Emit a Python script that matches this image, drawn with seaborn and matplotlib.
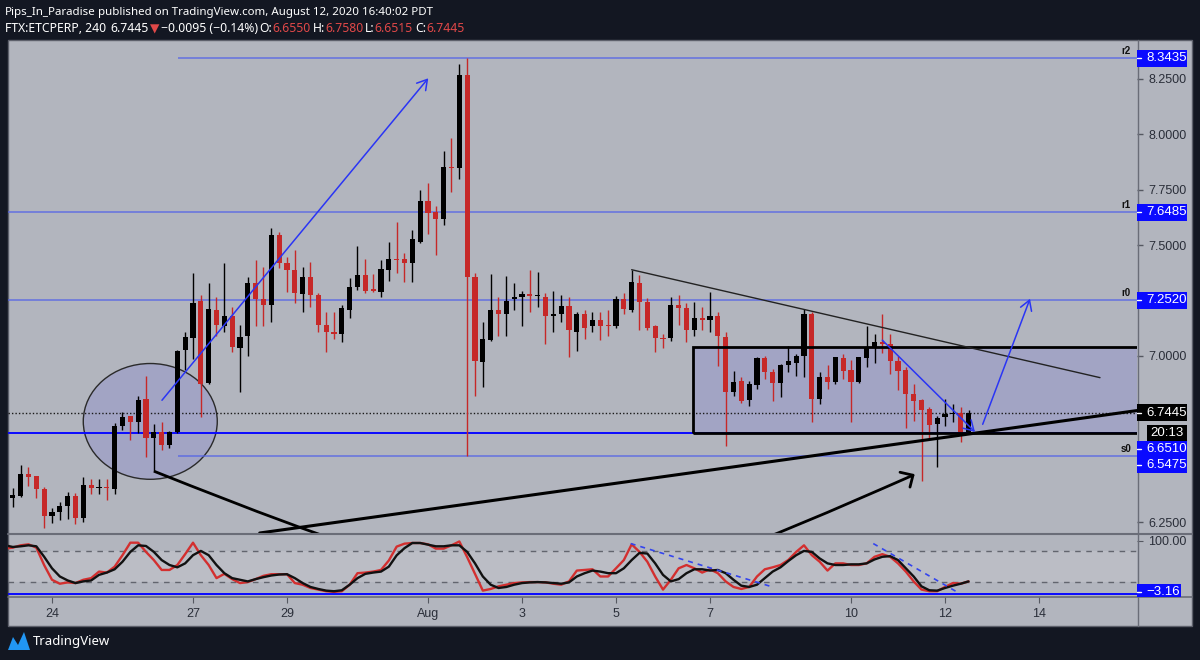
import numpy as np
import pandas as pd
import matplotlib
matplotlib.use("Agg")
import matplotlib.pyplot as plt
import seaborn as sns
from matplotlib.patches import Rectangle, Ellipse, PathPatch, Polygon
from matplotlib.path import Path
from matplotlib.lines import Line2D

# ---------------- data (FTX:ETCPERP, 4h candles) ----------------
opens = [
    6.340, 6.361, 6.367, 6.466, 6.457, 6.399, 6.277, 6.295, 6.322, 6.367,
    6.268, 6.417, 6.403, 6.408, 6.399, 6.683, 6.727, 6.700, 6.804, 6.628,
    6.655, 6.597, 6.655, 7.025, 7.079, 7.250, 6.876, 7.209, 7.133, 7.182,
    7.038, 7.088, 7.331, 7.255, 7.232, 7.547, 7.421, 7.389, 7.281, 7.358,
    7.277, 7.141, 7.106, 7.101, 7.205, 7.313, 7.367, 7.299, 7.290, 7.389,
    7.439, 7.439, 7.421, 7.515, 7.700, 7.650, 7.619, 7.854, 7.849, 8.268,
    7.358, 6.971, 7.070, 7.205, 7.191, 7.259, 7.268, 7.281, 7.272, 7.268,
    7.178, 7.187, 7.227, 7.110, 7.187, 7.137, 7.160, 7.137, 7.133, 7.259,
    7.209, 7.331, 7.245, 7.133, 7.079, 7.079, 7.232, 7.218, 7.115, 7.169,
    7.160, 7.182, 7.084, 6.836, 6.885, 6.800, 6.867, 6.989, 6.926, 6.876,
    6.957, 6.966, 6.998, 7.191, 6.804, 6.903, 6.881, 6.989, 6.935, 6.881,
    6.989, 7.034, 7.065, 7.052, 6.975, 6.935, 6.827, 6.800, 6.759, 6.692,
    6.723, 6.736, 6.741, 6.655]
highs = [
    6.385, 6.403, 6.507, 6.498, 6.459, 6.408, 6.313, 6.340, 6.385, 6.381,
    6.453, 6.444, 6.444, 6.444, 6.696, 6.745, 6.730, 6.818, 6.908, 6.692,
    6.700, 6.660, 7.025, 7.106, 7.376, 7.277, 7.331, 7.268, 7.421, 7.223,
    7.141, 7.358, 7.434, 7.403, 7.579, 7.561, 7.448, 7.479, 7.403, 7.425,
    7.286, 7.200, 7.196, 7.232, 7.353, 7.497, 7.439, 7.371, 7.434, 7.515,
    7.606, 7.466, 7.570, 7.750, 7.782, 7.677, 7.926, 7.984, 8.318, 8.3435,
    7.376, 7.155, 7.371, 7.268, 7.362, 7.327, 7.295, 7.389, 7.380, 7.286,
    7.295, 7.277, 7.268, 7.196, 7.209, 7.200, 7.196, 7.205, 7.272, 7.286,
    7.389, 7.367, 7.263, 7.141, 7.097, 7.268, 7.277, 7.241, 7.245, 7.223,
    7.290, 7.200, 7.106, 6.930, 6.903, 6.885, 6.993, 6.998, 6.939, 6.962,
    7.047, 7.007, 7.214, 7.196, 6.926, 6.957, 6.995, 7.007, 6.980, 6.995,
    7.137, 7.097, 7.187, 7.097, 6.998, 6.948, 6.872, 6.804, 6.768, 6.727,
    6.804, 6.781, 6.768, 6.758]
lows = [
    6.318, 6.318, 6.363, 6.412, 6.358, 6.223, 6.246, 6.259, 6.264, 6.241,
    6.250, 6.376, 6.376, 6.349, 6.376, 6.665, 6.619, 6.651, 6.543, 6.480,
    6.574, 6.583, 6.650, 6.938, 6.984, 6.723, 6.874, 7.088, 7.110, 7.016,
    6.836, 6.998, 7.133, 7.133, 7.155, 7.398, 7.290, 7.241, 7.196, 7.223,
    7.110, 7.016, 7.075, 7.061, 7.169, 7.299, 7.286, 7.290, 7.268, 7.340,
    7.376, 7.335, 7.335, 7.511, 7.552, 7.457, 7.592, 7.741, 7.800, 6.5475,
    6.818, 6.858, 7.066, 7.088, 7.092, 7.205, 7.133, 7.196, 7.223, 7.052,
    7.110, 7.151, 6.993, 7.020, 7.075, 7.110, 7.070, 7.088, 7.128, 7.187,
    7.196, 7.115, 7.119, 7.016, 7.038, 7.066, 7.141, 7.061, 7.088, 7.115,
    7.110, 6.953, 6.592, 6.818, 6.786, 6.773, 6.849, 6.894, 6.795, 6.813,
    6.926, 6.908, 6.903, 6.700, 6.782, 6.849, 6.872, 6.894, 6.700, 6.878,
    6.948, 6.966, 7.011, 6.917, 6.845, 6.673, 6.705, 6.435, 6.624, 6.498,
    6.683, 6.700, 6.610, 6.6515]
closes = [
    6.363, 6.373, 6.466, 6.453, 6.399, 6.277, 6.295, 6.322, 6.367, 6.268,
    6.417, 6.403, 6.408, 6.403, 6.683, 6.723, 6.700, 6.800, 6.628, 6.655,
    6.597, 6.655, 7.020, 7.084, 7.241, 6.872, 7.214, 7.141, 7.182, 7.042,
    7.084, 7.331, 7.255, 7.232, 7.547, 7.421, 7.389, 7.286, 7.358, 7.277,
    7.141, 7.110, 7.101, 7.218, 7.313, 7.367, 7.295, 7.295, 7.394, 7.439,
    7.434, 7.421, 7.529, 7.700, 7.646, 7.619, 7.854, 7.849, 8.268, 7.358,
    6.975, 7.075, 7.205, 7.191, 7.250, 7.268, 7.281, 7.272, 7.277, 7.178,
    7.191, 7.227, 7.119, 7.187, 7.128, 7.160, 7.133, 7.133, 7.259, 7.214,
    7.335, 7.245, 7.128, 7.079, 7.075, 7.232, 7.218, 7.115, 7.169, 7.160,
    7.178, 7.088, 6.836, 6.881, 6.795, 6.872, 6.989, 6.926, 6.876, 6.957,
    6.975, 6.998, 7.191, 6.804, 6.903, 6.881, 6.993, 6.930, 6.881, 6.993,
    7.038, 7.065, 7.052, 6.975, 6.930, 6.827, 6.795, 6.755, 6.687, 6.719,
    6.736, 6.741, 6.655, 6.7445]
stoch_k = [
    85, 87, 91.5, 93.4, 87, 53, 24.5, 16.8, 19.4, 18.1,
    24.5, 27.7, 40.4, 38.5, 50, 72.3, 96.6, 96.6, 78.7, 62.8,
    43.6, 43.6, 53.2, 74.3, 96.6, 72.3, 53.2, 27.7, 36, 25.8,
    18.1, 20, 25.8, 32.2, 35.3, 35.3, 35.3, 18.1, 14.9, 8.5,
    5.4, 2.2, 0.9, 2.2, 14.9, 37.3, 38.5, 40.4, 43.6, 62,
    89, 94.7, 96, 96, 93.4, 85.1, 85.1, 91.5, 99, 68.5,
    36, 3.4, 6.6, 11.7, 14.9, 18.1, 19.4, 20, 20, 19.4,
    16.8, 14.9, 21.3, 42.4, 43.6, 44.9, 30.9, 30.9, 46.8, 62.8,
    93.4, 78.7, 59.6, 30.9, 5.4, 24.5, 46.8, 53.2, 46.8, 38.5,
    44.9, 37.3, 21.3, 10.5, 6.6, 10.5, 30.9, 44.9, 48.7, 53.2,
    63, 78.7, 91.5, 72.3, 59.6, 42.4, 56.4, 56.4, 53.2, 53.2,
    56.4, 69.2, 74.3, 69.2, 56.4, 40.4, 21.3, 5.4, 2.2, 2.2,
    10.5, 18.1, 16.8, 21.3]
stoch_d = [
    91.5, 88.3, 89.6, 91.5, 89.6, 69.2, 46.8, 30.9, 23.2, 18.1,
    21.3, 23.2, 34, 38.5, 44.9, 59.6, 78.7, 91.5, 90.2, 78.7,
    62.8, 53.2, 48.7, 56.4, 72.3, 80.6, 72.3, 53.2, 37.3, 27.7,
    24.5, 21.3, 25.8, 29.6, 32.8, 34.7, 35.3, 27.7, 18.1, 10.5,
    6.6, 3.4, 2.2, 4.1, 14.9, 27.7, 36, 38.5, 40.4, 50,
    72, 86, 96, 96, 92.8, 89.6, 89.6, 91.5, 91.5, 78.7,
    56.4, 30.9, 14.9, 8.5, 10.5, 14.9, 18.1, 19.4, 20, 19.4,
    18.1, 16.8, 19.4, 30.9, 37.3, 42.4, 40.4, 37.3, 37.3, 46.8,
    62.8, 76.8, 75.5, 56.4, 34, 21.3, 25.8, 37.3, 44.9, 44.9,
    42.4, 43.6, 37.3, 24.5, 13, 10.5, 14.9, 27.7, 40.4, 48.7,
    61, 72.3, 80.6, 78.7, 66, 56.4, 53.2, 53.2, 54.5, 54.5,
    56.4, 64, 69.2, 70.4, 62.8, 46.8, 30.9, 11.7, 4.1, 3.4,
    8.5, 13, 16.8, 21.3]

first_candle = "2020-07-23 00:00"
origin = pd.Timestamp("2020-07-24")
price_ticks = [8.25, 8.0, 7.75, 7.5, 7.0, 6.25]
date_ticks = ["2020-07-24", "2020-07-27", "2020-07-29", "2020-08-01", "2020-08-03",
              "2020-08-05", "2020-08-07", "2020-08-10", "2020-08-12", "2020-08-14"]
date_tick_labels = ["24", "27", "29", "Aug", "3", "5", "7", "10", "12", "14"]

# horizontal levels (price, tag, start day)
level_prices = [8.3435, 7.6485, 7.2520, 6.5475]
level_tags = ["r2", "r1", "r0", "s0"]
level_start = [2.68, -2.0, -2.0, 2.68]
support_price = 6.6510
last_price = 6.7445

# drawings (day offset from Jul 24, price)
big_arrow = [(2.34, 6.80), (8.006, 8.253)]
down_arrow = [(17.667, 7.071), (19.638, 6.657)]
up_arrow = [(19.802, 6.6915), (20.809, 7.258)]
desc_trend = [(12.333, 7.389), (22.298, 6.902)]
asc_trend = [(17.191, 6.579), (22.511, 6.7365)]
curve_pts = [(2.167, 6.480), (10.66, 5.7636), (11.298, 5.8086), (18.319, 6.4617)]
curve_head = [(18.043, 6.475), (18.255, 6.408)]
ellipse_c, ellipse_w, ellipse_h = (2.091, 6.7045), 2.851, 0.5225
box_x0, box_lo, box_hi = 13.645, 6.651, 7.0388
stoch_dash1 = [(12.313, 94.9), (15.313, 11.0)]
stoch_dash2 = [(17.474, 94.9), (19.283, -0.7)]
stoch_hline = -3.16

# ---------------- style ----------------
sns.set_style("white")
plt.rcParams["font.family"] = ["Liberation Sans", "DejaVu Sans"]
W, H = 1200, 660
BG = "#b2b5be"
DARK = "#131722"
RED = "#c62828"
BLUE = "#0a0aff"
LVL = "#5565e6"
TXT = "#2a2e39"
FS = 8.5

def fx(px): return px / W
def fy(py): return 1 - py / H

fig = plt.figure(figsize=(W / 100, H / 100), dpi=100)
fig.patch.set_facecolor(DARK)
fig.add_artist(Rectangle((fx(8), fy(626)), (1192 - 8) / W, (626 - 40) / H, transform=fig.transFigure,
                         facecolor=BG, edgecolor="#5d606b", lw=1, zorder=-10))

ax = fig.add_axes([fx(8), fy(533), (1137 - 8) / W, (533 - 40) / H])
ax2 = fig.add_axes([fx(8), fy(597), (1137 - 8) / W, (597 - 534) / H])
for a in (ax, ax2):
    a.set_facecolor("none")
    for s in a.spines.values():
        s.set_visible(False)

times = pd.date_range(first_candle, periods=len(opens), freq="4h")
x = ((times - origin) / pd.Timedelta(days=1)).to_numpy()
o, h, l, c = map(np.asarray, (opens, highs, lows, closes))
XL = (-0.936, 23.085)
ax.set_xlim(*XL)
ax.set_ylim(6.2009, 8.4257)
ax2.set_xlim(*XL)
ax2.set_ylim(-9, 113.5)

# levels
for p, s0 in zip(level_prices, level_start):
    ax.hlines(p, s0, 40, color=LVL, lw=1.1, alpha=0.85, zorder=2)
ax.axhline(support_price, color=BLUE, lw=1.4, zorder=2)
ax.axhline(last_price, color="#1a1a1a", lw=1, ls=(0, (1, 1.5)), zorder=2)

# box and ellipse
fillc = (0.37, 0.37, 0.88, 0.19)
ax.add_patch(Rectangle((box_x0, box_lo), 30, box_hi - box_lo, facecolor=fillc, edgecolor="none", zorder=1))
ax.add_patch(Ellipse(ellipse_c, ellipse_w, ellipse_h, facecolor=fillc, edgecolor="#2a2a2a", lw=1, zorder=1))

# candles
cols = np.where(c >= o, "#000000", RED)
ax.vlines(x, l, h, colors=cols, lw=1, zorder=3)
ax.bar(x, np.maximum(np.abs(c - o), 0.005), bottom=np.minimum(o, c), width=0.11,
       color=cols, linewidth=0, zorder=4)

# box edges over candles
ax.add_patch(Rectangle((box_x0, box_lo), 30, box_hi - box_lo, facecolor="none", edgecolor="black", lw=2, zorder=6))

# trend lines
ax.plot(*zip(*desc_trend), color="#222222", lw=1, zorder=6)
ax.axline(asc_trend[0], asc_trend[1], color="black", lw=2.2, zorder=6)
ax.add_patch(PathPatch(Path(curve_pts, [Path.MOVETO, Path.CURVE4, Path.CURVE4, Path.CURVE4]),
                       facecolor="none", edgecolor="black", lw=2, zorder=6))
for hp in curve_head:
    ax.plot([curve_pts[-1][0], hp[0]], [curve_pts[-1][1], hp[1]], color="black", lw=2, zorder=6,
            solid_capstyle="round")

for (p0, p1) in (big_arrow, down_arrow, up_arrow):
    ax.annotate("", xy=p1, xytext=p0,
                arrowprops=dict(arrowstyle="->,head_length=0.5,head_width=0.3", color="#2a35f5", lw=1.1,
                                shrinkA=0, shrinkB=0, mutation_scale=14), zorder=7)

# axes ticks
ax.yaxis.tick_right()
ax.set_yticks(price_ticks)
ax.set_yticklabels([f"{v:.4f}" for v in price_ticks])
ax.tick_params(axis="y", right=True, left=False, length=4, width=1, color="#555861",
               labelsize=FS + 0.5, labelcolor=TXT, pad=4)
ax.set_xticks([])

# stochastic
ax2.axhspan(20, 80, color="white", alpha=0.12, lw=0, zorder=0)
for lv in (80, 20):
    ax2.axhline(lv, color="#62656e", lw=1, ls=(0, (4, 4)), zorder=1)
ax2.axhline(stoch_hline, color=BLUE, lw=1.4, zorder=2)
stoch_df = pd.DataFrame({"t": x, "K": stoch_k, "D": stoch_d})
sns.lineplot(data=stoch_df, x="t", y="K", ax=ax2, color="#d32f2f", lw=1.7, zorder=3)
sns.lineplot(data=stoch_df, x="t", y="D", ax=ax2, color="#111111", lw=1.7, zorder=4)
for seg in (stoch_dash1, stoch_dash2):
    ax2.plot(*zip(*seg), color="#3344ee", lw=1.2, ls=(0, (3, 3)), zorder=5)
ax2.set_xlabel("")
ax2.set_ylabel("")
ax2.yaxis.tick_right()
ax2.set_yticks([100])
ax2.set_yticklabels(["100.00"])
ax2.tick_params(axis="y", right=True, left=False, length=4, color="#555861", labelsize=FS + 0.5,
                labelcolor=TXT, pad=4)
tick_x = ((pd.to_datetime(date_ticks) - origin) / pd.Timedelta(days=1)).to_numpy()
ax2.set_xticks(tick_x)
ax2.set_xticklabels(date_tick_labels)
ax2.tick_params(axis="x", bottom=True, length=4, color="#555861", labelsize=FS + 0.5,
                labelcolor=TXT, pad=4)

# separators
def fline(xs, ys, color="#6a6d78", lw=1.0, z=8):
    fig.add_artist(Line2D([fx(v) for v in xs], [fy(v) for v in ys], transform=fig.transFigure,
                          color=color, lw=lw, zorder=z))
fline([1137.5, 1137.5], [40, 626])
fline([8, 1192], [533.5, 533.5], lw=1.5)
fline([8, 1192], [597, 597], lw=1.2)

# level tags
def ypx(a, v):
    return H - a.transData.transform((0, v))[1]

for p, tag in zip(level_prices, level_tags):
    yy = ypx(ax, p)
    fig.text(fx(1131), fy(yy - 7), tag, ha="right", va="center", fontsize=7, fontweight="bold",
             color="#111111", zorder=9)

def axis_box(yc, text, fc, x0=1137, x1=1187, hh=17, tick=True, tx=1146, ha="left"):
    fig.add_artist(Rectangle((fx(x0), fy(yc + hh / 2)), (x1 - x0) / W, hh / H, transform=fig.transFigure,
                             facecolor=fc, edgecolor="none", zorder=10))
    if tick:
        fline([x0, x0 + 4], [yc, yc], color="white", lw=1, z=11)
    fig.text(fx(tx), fy(yc), text, color="white", fontsize=FS + 1, va="center", ha=ha, zorder=12)

for p in level_prices[:3]:
    axis_box(ypx(ax, p), f"{p:.4f}", BLUE)
y_last = ypx(ax, last_price)
axis_box(y_last, f"{last_price:.4f}", "#000000")
axis_box(y_last + 20, "20:13", "#000000", x0=1147, x1=1187, hh=16, tick=False, tx=1167, ha="center")
# merged support labels (pushed below the countdown)
yb = y_last + 28
fig.add_artist(Rectangle((fx(1137), fy(yb + 32)), 50 / W, 32 / H, transform=fig.transFigure,
                         facecolor=BLUE, edgecolor="none", zorder=10))
for k, p in enumerate([support_price, level_prices[3]]):
    yc = yb + 8 + 16 * k
    fline([1137, 1141], [yc, yc], color="white", lw=1, z=11)
    fig.text(fx(1146), fy(yc), f"{p:.4f}", color="white", fontsize=FS + 1, va="center", zorder=12)
ys = ypx(ax2, stoch_hline)
fig.add_artist(Rectangle((fx(1137), fy(597)), 44 / W, 13 / H, transform=fig.transFigure,
                         facecolor=BLUE, edgecolor="none", zorder=10))
fline([1137, 1141], [ys - 2, ys - 2], color="white", lw=1, z=11)
fig.text(fx(1146), fy(ys - 2), f"{stoch_hline:.2f}".replace("-", "\u2212"), color="white",
         fontsize=FS + 1, va="center", zorder=12)

# header
HF = ["Noto Sans", "DejaVu Sans"]
renderer = fig.canvas.get_renderer()

def place(x0, yc, pieces, size):
    xx = x0
    arts = []
    for s, col, wt, gap in pieces:
        xx += gap * size * 0.28
        t = fig.text(fx(xx), fy(yc), s, color=col, fontsize=size, fontweight=wt, family=HF,
                     va="center", ha="left", zorder=12)
        xx += t.get_window_extent(renderer).width
        arts.append(t)
    return arts, xx - x0

def fit(x0, yc, pieces, target):
    arts, wd = place(x0, yc, pieces, 10)
    for a in arts:
        a.remove()
    place(x0, yc, pieces, 10 * target / wd)

line1 = [("Pips_In_Paradise", "white", "bold", 0),
         ("published on TradingView.com, August 12, 2020 16:40:02 PDT", "white", "normal", 1)]
fit(5, 12, line1, 426)
HR = "#e04848"
line2 = [("FTX:ETCPERP, 240", "white", "bold", 0), ("6.7445", "white", "normal", 1.6),
         ("\u25bc", HR, "normal", 0.6), ("\u22120.0095 (\u22120.14%)", "white", "normal", 0.6),
         ("O:", "white", "bold", 0.8), ("6.6550", HR, "normal", 0),
         ("H:", "white", "bold", 0.8), ("6.7580", HR, "normal", 0),
         ("L:", "white", "bold", 0.8), ("6.6515", HR, "normal", 0),
         ("C:", "white", "bold", 0.8), ("6.7445", HR, "normal", 0)]
fit(5, 29, line2, 458)

# TradingView logo
fig.add_artist(Polygon([(fx(8), fy(650)), (fx(13), fy(637)), (fx(18), fy(645)), (fx(24), fy(632)),
                        (fx(30), fy(650))], closed=True, transform=fig.transFigure,
                       facecolor="#2196f3", edgecolor="none", zorder=12))
fig.text(fx(33), fy(641), "TradingView", color="white", fontsize=9.5, family=HF, va="center",
         ha="left", zorder=12)

fig.savefig("out.png", dpi=100, facecolor=fig.get_facecolor())
